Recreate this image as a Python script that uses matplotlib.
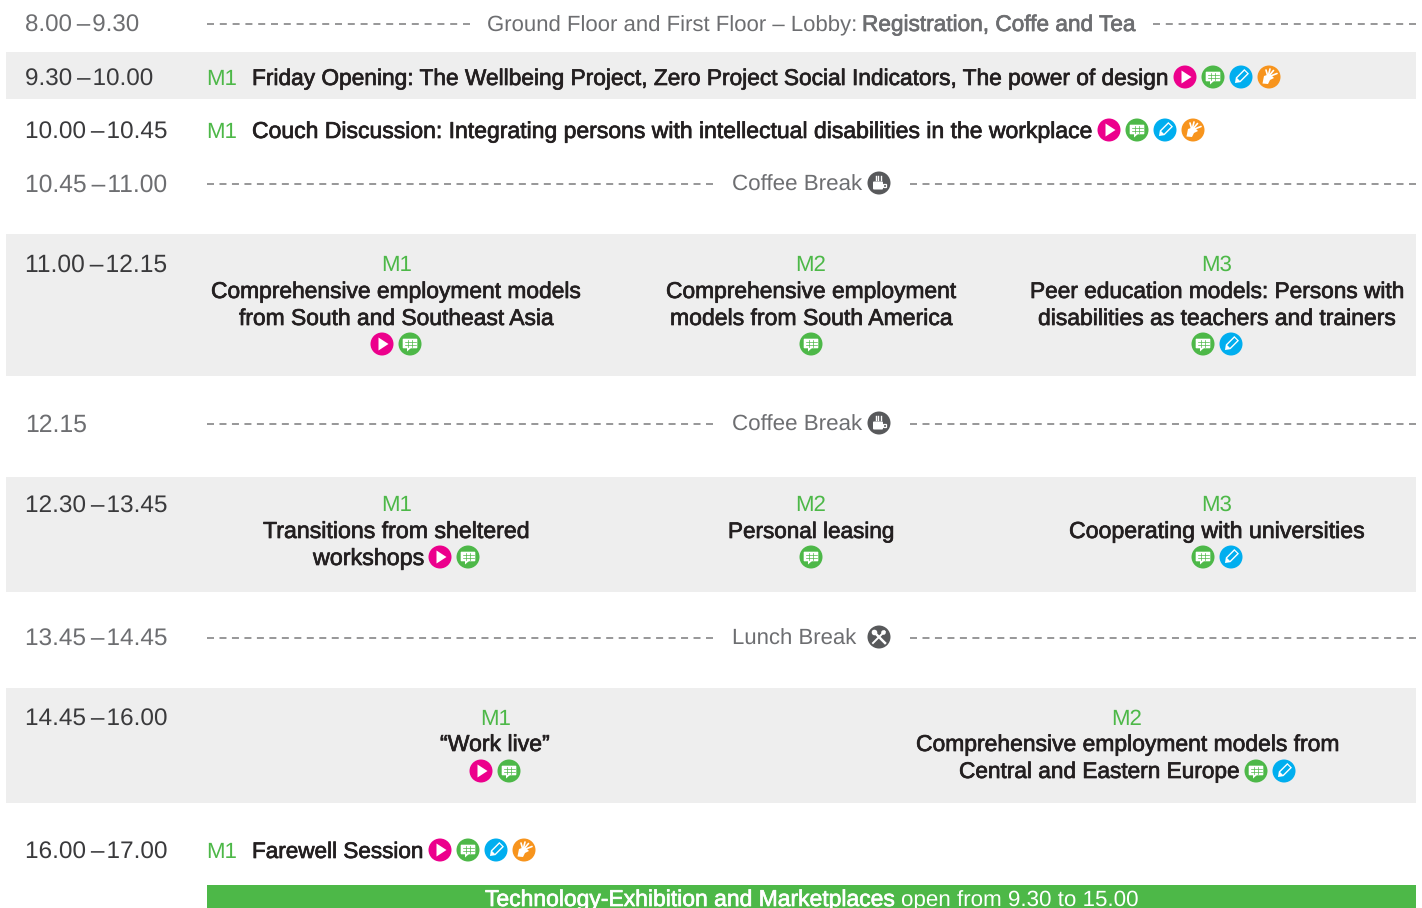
import numpy as np
import matplotlib
matplotlib.use('Agg')
import matplotlib.pyplot as plt
import matplotlib.patheffects as pe
from matplotlib.patches import Circle, Rectangle, FancyBboxPatch, Polygon

plt.rcParams['text.hinting'] = 'no_hinting'
plt.rcParams['text.hinting_factor'] = 8

# Schedule content
times = ['8.00\u2009\u2013\u200a9.30', '9.30\u2009\u2013\u200a10.00', '10.00\u2009\u2013\u200a10.45',
         '10.45\u2009\u2013\u200a11.00', '11.00\u2009\u2013\u200a12.15', '12.15', '12.30\u2009\u2013\u200a13.45',
         '13.45\u2009\u2013\u200a14.45', '14.45\u2009\u2013\u200a16.00', '16.00\u2009\u2013\u200a17.00']
time_base = [32, 86, 139, 191.5, 271.5, 431.5, 513, 646, 726, 859]
time_right = [139, 153, 167, 167, 167, 87, 167, 167, 167, 167]
time_dark = [False, True, True, False, True, False, True, False, True, True]

bands = [(52, 99), (234, 376), (477, 592), (688, 803)]

# text, left x, right x, baseline, icons
left_rows = [
    ('Friday Opening: The Wellbeing Project, Zero Project Social Indicators, The power of design', 252, 1166.5, 85, 1185, 'pcdh'),
    ('Couch Discussion: Integrating persons with intellectual disabilities in the workplace', 252, 1090.5, 138, 1109, 'pcdh'),
    ('Farewell Session', 252, 423, 858, 440, 'pcdh'),
]

# room, centre x, baseline of room
rooms = [('M1', 396.5, 271), ('M2', 811, 271), ('M3', 1216.5, 271),
         ('M1', 396.5, 511), ('M2', 811, 511), ('M3', 1216.5, 511),
         ('M1', 495.5, 725), ('M2', 1127, 725)]

# text, left x, right x, baseline
session_lines = [
    ('Comprehensive employment models', 211, 580, 298),
    ('from South and Southeast Asia', 239, 553, 325),
    ('Comprehensive employment', 666, 955.5, 298),
    ('models from South America', 670, 952, 325),
    ('Peer education models: Persons with', 1030, 1403.5, 298),
    ('disabilities as teachers and trainers', 1038, 1395, 325),
    ('Transitions from sheltered', 263, 529, 538),
    ('workshops', 313, 424, 565),
    ('Personal leasing', 728, 894, 538),
    ('Cooperating with universities', 1069, 1364, 538),
    ('\u201cWork live\u201d', 440, 549.5, 751),
    ('Comprehensive employment models from', 916, 1338.5, 751),
    ('Central and Eastern Europe', 959, 1239, 778),
]

# icons, x of first icon, y
session_icons = [('pc', 382, 344), ('c', 811, 344), ('cd', 1203, 344),
                 ('pc', 440, 557), ('c', 811, 557), ('cd', 1203, 557),
                 ('pc', 481, 771), ('cd', 1256, 771)]

breaks = [('Coffee Break', 190.5, 732, 862, 'coffee'), ('Coffee Break', 430.5, 732, 862, 'coffee'),
          ('Lunch Break', 644.5, 732, 856, 'lunch')]

GREEN = '#4db848'
PINK = '#ec008c'
BLUE = '#00aeef'
ORANGE = '#f7941d'
DARK = '#231f20'
GREY = '#6d6e71'
TIME_DARK = '#3a3a3c'
BAND = '#eeeeee'

fig = plt.figure(figsize=(14.22, 9.08), dpi=100)
ax = fig.add_axes([0, 0, 1, 1])
ax.set_xlim(0, 1422)
ax.set_ylim(908, 0)
ax.axis('off')
renderer = fig.canvas.get_renderer()


def put(s, x, y, width=None, color=DARK, medium=False, ha='left', size=16.6):
    t = ax.text(x, y, s, fontsize=size, color=color, ha=ha, va='baseline',
                family='Liberation Sans', clip_on=True)
    if width is not None:
        w = t.get_window_extent(renderer).width
        t.set_fontsize(size * width / w)
    if medium:
        t.set_path_effects([pe.withStroke(linewidth=0.5, foreground=color)])
    return t


def icon(kind, cx, cy):
    r = 11.5
    cols = {'p': PINK, 'c': GREEN, 'd': BLUE, 'h': ORANGE, 'coffee': '#58595b', 'lunch': '#58595b'}
    ax.add_patch(Circle((cx, cy), r, color=cols[kind], lw=0, zorder=3))
    if kind == 'p':
        ax.add_patch(Polygon([(cx - 3.5, cy - 6.5), (cx - 3.5, cy + 6.5), (cx + 6.5, cy)], color='white', lw=0, zorder=4))
    elif kind == 'c':
        ax.add_patch(FancyBboxPatch((cx - 6.5, cy - 4.5), 13, 8, boxstyle='round,pad=0.8', color='white', lw=0, zorder=4))
        ax.add_patch(Polygon([(cx - 3, cy + 4), (cx + 1, cy + 4), (cx - 3, cy + 7.5)], color='white', lw=0, zorder=4))
        for dy in (-1.7, 1):
            ax.plot([cx - 5.5, cx + 5.5], [cy + dy] * 2, color=GREEN, lw=0.5, zorder=5)
        for dx in (-1.8, 1.8):
            ax.plot([cx + dx] * 2, [cy - 4, cy + 3], color=GREEN, lw=0.5, zorder=5)
    elif kind == 'd':
        # pencil, tip towards the lower left
        a = np.radians(-45)
        rot = np.array([[np.cos(a), -np.sin(a)], [np.sin(a), np.cos(a)]])
        outer = np.array([[-8.5, 0], [-4, -3.3], [8, -3.3], [8, 3.3], [-4, 3.3]])
        inner = np.array([[-3.5, -1.9], [6.8, -1.9], [6.8, 1.9], [-3.5, 1.9]])
        ax.add_patch(Polygon(outer @ rot.T + [cx, cy], color='white', lw=0, zorder=4))
        ax.add_patch(Polygon(inner @ rot.T + [cx, cy], color=BLUE, lw=0, zorder=5))
    elif kind == 'h':
        ax.add_patch(Polygon([(cx - 6.5, cy + 6.5), (cx - 5, cy - 1), (cx + 1, cy - 3), (cx + 5, cy + 1), (cx + 1, cy + 3),
                              (cx - 1, cy + 7)], color='white', lw=0, zorder=4))
        for ex, ey in [(-3, -7), (1, -8), (4.5, -6.5), (8, -3.5)]:
            ax.plot([cx - 1, cx + ex], [cy, cy + ey], color='white', lw=1.2, solid_capstyle='round', zorder=4)
    elif kind == 'coffee':
        ax.add_patch(FancyBboxPatch((cx - 5, cy - 0.5), 8, 6, boxstyle='round,pad=1', color='white', lw=0, zorder=4))
        ax.add_patch(Rectangle((cx + 4, cy + 0.5), 2.5, 3, fill=False, ec='white', lw=0.9, zorder=4))
        for dx in (-3.5, -1, 1.5):
            ax.plot([cx + dx] * 2, [cy - 7, cy - 3.5], color='white', lw=1.0, zorder=4)
    elif kind == 'lunch':
        ax.plot([cx - 5.5, cx + 6], [cy - 5.5, cy + 6], color='white', lw=1.8, zorder=4)
        ax.plot([cx + 5.5, cx - 6], [cy - 5.5, cy + 6], color='white', lw=1.4, zorder=4)
        ax.add_patch(Circle((cx - 4.5, cy - 4.5), 2.8, color='white', lw=0, zorder=4))
        ax.add_patch(Circle((cx + 4.5, cy - 4.5), 2.3, color='white', lw=0, zorder=4))


def icons_row(kinds, x, cy):
    for i, k in enumerate(kinds):
        icon(k, x + i * 28, cy)


def dash(x0, x1, y, n):
    # n gaps, so the last dash stops on x1
    on = 7.0
    period = (x1 - x0 - on) / n
    lw = 1.1
    ax.plot([x0, x1], [y, y], color='#7a7a7c', lw=lw,
            dashes=(on * 0.72 / lw, (period - on) * 0.72 / lw), zorder=2, dash_capstyle='butt')


for y0, y1 in bands:
    ax.add_patch(Rectangle((6, y0), 1410, y1 - y0, color=BAND, lw=0, zorder=0))
ax.add_patch(Rectangle((207, 885), 1209, 23, color=GREEN, lw=0, zorder=1))

for s, b, r, d in zip(times, time_base, time_right, time_dark):
    put(s, 25, b, width=r - 25, color=TIME_DARK if d else GREY)

# opening line
dash(207, 470, 24, 20)
dash(1153, 1416, 24, 20)
put('Ground Floor and First Floor \u2013 Lobby:', 487, 31, width=369, color=GREY)
put('Registration, Coffe and Tea', 862, 31, width=273, color=GREY, medium=True)

for s, x0, x1, b, ix, ic in left_rows:
    put('M1', 206, b, color=GREEN, size=16)
    put(s, x0, b, width=x1 - x0, medium=True)
    icons_row(ic, ix, b - 8)

for room, cx, b in rooms:
    put(room, cx, b, color=GREEN, ha='center', size=16)

for s, x0, x1, b in session_lines:
    put(s, x0, b, width=x1 - x0, medium=True)

for ic, x, y in session_icons:
    icons_row(ic, x, y)

for s, b, x0, x1, ic in breaks:
    y = int(b + 0.5) - 7
    dash(207, 713, y, 40)
    dash(910, 1416, y, 40)
    put(s, x0, b, width=x1 - x0, color=GREY)
    icon(ic, 879, y - 1)

put('Technology-Exhibition and Marketplaces', 485, 906, width=409, color='white', medium=True)
put('open from 9.30 to 15.00', 901, 906, width=237, color='white')

plt.savefig('out.png', dpi=100)
